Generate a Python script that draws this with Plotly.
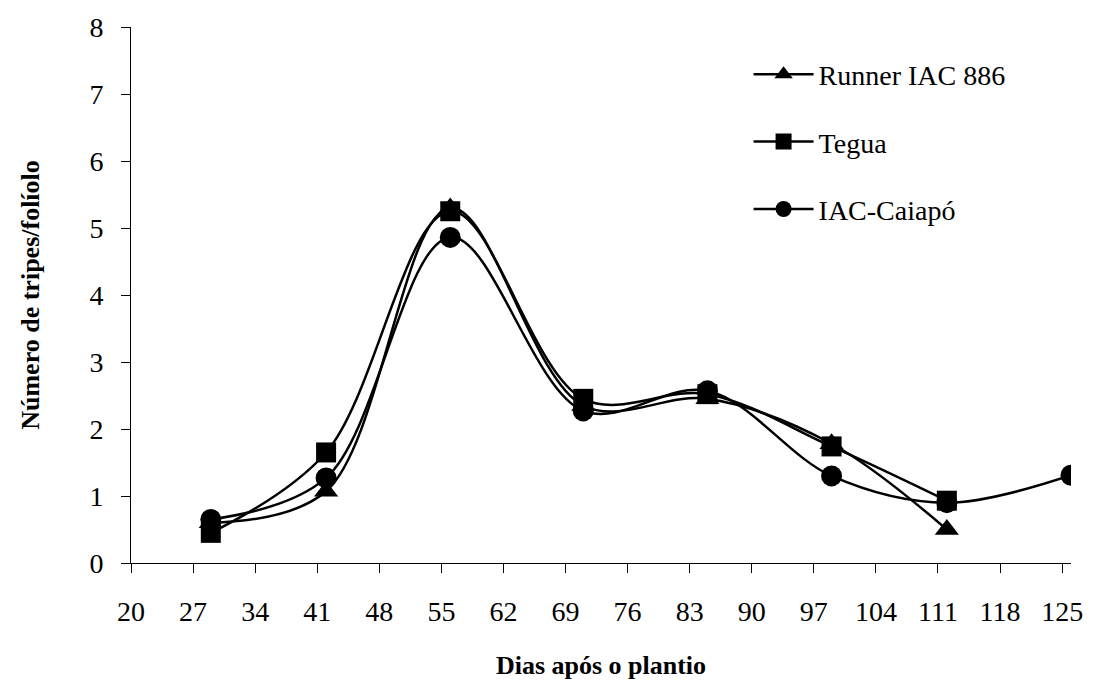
import plotly.graph_objects as go

# Data
days_short = [29, 42, 56, 71, 85, 99, 112]
days_long = [29, 42, 56, 71, 85, 99, 112, 126]
runner_iac_886 = [0.60, 1.07, 5.30, 2.35, 2.45, 1.78, 0.50]
tegua = [0.45, 1.65, 5.25, 2.45, 2.52, 1.74, 0.93]
iac_caiapo = [0.65, 1.27, 4.86, 2.27, 2.57, 1.30, 0.90, 1.31]

x_ticks = [20, 27, 34, 41, 48, 55, 62, 69, 76, 83, 90, 97, 104, 111, 118, 125]
y_ticks = [0, 1, 2, 3, 4, 5, 6, 7, 8]

FONT = "Times New Roman, Liberation Serif, serif"

fig = go.Figure()
series = [
    ("Runner IAC 886", days_short, runner_iac_886, "triangle-up", 21),
    ("Tegua", days_short, tegua, "square", 20),
    ("IAC-Caiapó", days_long, iac_caiapo, "circle", 21),
]
for i, (name, xs, ys, sym, sz) in enumerate(series):
    fig.add_trace(go.Scatter(
        x=xs, y=ys, name=name, mode="lines+markers",
        line=dict(color="black", width=2.5, shape="spline", smoothing=1.0),
        marker=dict(symbol=sym, size=sz, color="black"),
        legendgroup=f"g{i}",
    ))

fig.update_layout(
    width=1095, height=687,
    margin=dict(l=131, r=19, t=22, b=121),
    paper_bgcolor="white", plot_bgcolor="white",
    font=dict(family=FONT, size=28, color="black"),
    showlegend=True,
    legend=dict(
        x=0.657, y=0.958, xanchor="left", yanchor="top",
        font=dict(family=FONT, size=28, color="black"),
        bgcolor="rgba(0,0,0,0)", borderwidth=0,
        traceorder="grouped", tracegroupgap=28,
        itemwidth=60,
    ),
    xaxis=dict(
        range=[20, 126], tickmode="array", tickvals=x_ticks,
        ticktext=[str(v) for v in x_ticks],
        showgrid=False, zeroline=False, showline=True,
        linecolor="black", linewidth=1,
        ticks="outside", ticklen=9, tickwidth=1, tickcolor="black",
        tickfont=dict(family=FONT, size=28, color="black"),
        ticklabelstandoff=14,
        title=dict(text="<b>Dias após o plantio</b>",
                   font=dict(family=FONT, size=26, color="black"),
                   standoff=30),
    ),
    yaxis=dict(
        range=[0, 8], tickmode="array", tickvals=y_ticks,
        showgrid=False, zeroline=False, showline=True,
        linecolor="black", linewidth=1,
        ticks="outside", ticklen=9, tickwidth=1, tickcolor="black",
        tickfont=dict(family=FONT, size=28, color="black"),
        ticklabelstandoff=12,
        title=dict(text="<b>Número de tripes/folíolo</b>",
                   font=dict(family=FONT, size=26, color="black"),
                   standoff=42),
    ),
)

fig.write_html("out.html")
